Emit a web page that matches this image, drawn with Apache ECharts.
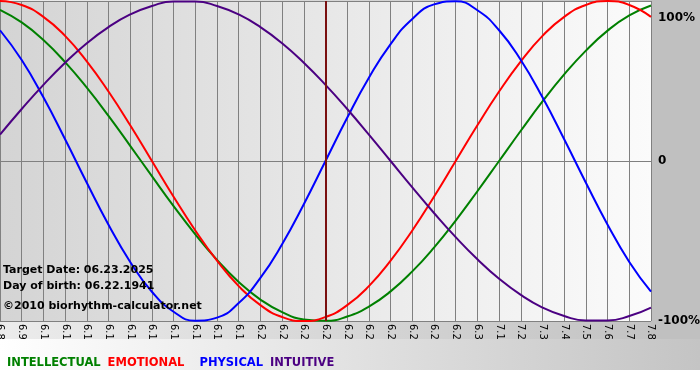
<!DOCTYPE html>
<html>
<head>
<meta charset="utf-8">
<script src="https://cdn.jsdelivr.net/npm/echarts@6/dist/echarts.min.js"></script>
<style>html,body{margin:0;padding:0;background:#fff}#c{width:700px;height:380px}</style>
</head>
<body>
<div id="c"></div>
<script>
const dates = ['6.8','6.9','6.10','6.11','6.12','6.13','6.14','6.15','6.16','6.17','6.18','6.19','6.20','6.21','6.22','6.23','6.24','6.25','6.26','6.27','6.28','6.29','6.30','7.1','7.2','7.3','7.4','7.5','7.6','7.7','7.8'];
const intellectual = [94.5,86.6,75.6,61.8,45.8,28.2,9.5,-9.5,-28.2,-45.8,-61.8,-75.6,-86.6,-94.5,-99.0,-99.9,-97.2,-91.0,-81.5,-69.0,-54.1,-37.2,-18.9,0,18.9,37.2,54.1,69.0,81.5,91.0,97.2];
const emotional = [100,97.5,90.1,78.2,62.3,43.4,22.3,0,-22.3,-43.4,-62.3,-78.2,-90.1,-97.5,-100,-97.5,-90.1,-78.2,-62.3,-43.4,-22.3,0,22.3,43.4,62.3,78.2,90.1,97.5,100,97.5,90.1];
const physical = [81.7,63.1,39.8,13.6,-13.6,-39.8,-63.1,-81.7,-94.2,-99.8,-97.9,-88.8,-73.1,-52.0,-27.0,0,27.0,52.0,73.1,88.8,97.9,99.8,94.2,81.7,63.1,39.8,13.6,-13.6,-39.8,-63.1,-81.7];
const intuitive = [16.5,32.5,47.6,61.4,73.6,83.7,91.6,96.9,99.7,99.7,96.9,91.6,83.7,73.6,61.4,47.6,32.5,16.5,0,-16.5,-32.5,-47.6,-61.4,-73.6,-83.7,-91.6,-96.9,-99.7,-99.7,-96.9,-91.6];
const yTicks = {'100':'100%','0':'0','-100':'-100%'};
const targetDate = '6.23';
const infoLines = ['Target Date: 06.23.2025','Day of birth: 06.22.1941','©2010 biorhythm-calculator.net'];
const names = ['INTELLECTUAL','EMOTIONAL','PHYSICAL','INTUITIVE'];
const colors = ['#008000','#ff0000','#0000ff','#4b0082'];

const chart = echarts.init(document.getElementById('c'), null, {renderer:'canvas'});
const font = 'DejaVu Sans, Verdana, sans-serif';
const seriesData = [intellectual, emotional, physical, intuitive];
const series = names.map((n,i)=>({
  name:n, type:'line', data:seriesData[i], smooth:true, showSymbol:false, symbol:'none',
  lineStyle:{color:colors[i], width:2}, itemStyle:{color:colors[i]}, z:3, animation:false
}));
series[3].markLine = {
  silent:true, symbol:'none', animation:false,
  label:{show:false},
  lineStyle:{color:'#7a1010', width:2, type:'solid'},
  data:[{xAxis: targetDate}]
};
chart.setOption({
  animation:false,
  backgroundColor:'#ffffff',
  textStyle:{fontFamily:font},
  graphic:[
    {type:'rect', z:-10, shape:{x:0,y:0,width:700,height:370},
     style:{fill:new echarts.graphic.LinearGradient(0,0,1,0,[{offset:0,color:'#ececec'},{offset:1,color:'#c0c0c0'}])}},
    {type:'rect', z:-9, shape:{x:651,y:0,width:49,height:339}, style:{fill:'#c0c0c0'}},
    {type:'rect', z:50, shape:{x:0,y:339,width:700,height:31},
     style:{fill:new echarts.graphic.LinearGradient(0,0,1,0,[{offset:0,color:'#ffffff'},{offset:1,color:'#c4c4c4'}])}},
    {type:'rect', z:50, shape:{x:0,y:370,width:700,height:10}, style:{fill:'#ffffff'}},
    {type:'text', z:60, left:3, top:265, style:{text:infoLines[0], font:'bold 11px '+font, fill:'#000'}},
    {type:'text', z:60, left:3, top:281, style:{text:infoLines[1], font:'bold 11px '+font, fill:'#000'}},
    {type:'text', z:60, left:3, top:301, style:{text:infoLines[2], font:'bold 11px '+font, fill:'#000'}}
  ],
  legend:{
    z:100, left:-3, top:352, icon:'none', itemWidth:0, itemHeight:0, itemGap:2, padding:[5,5,5,5],
    textStyle:{fontFamily:font, fontSize:11.5, fontWeight:'bold', padding:0},
    formatter: n => n === 'PHYSICAL' ? '  ' + n : n,
    data:names.map((n,i)=>({name:n, textStyle:{color:colors[i]}})),
    selectedMode:false
  },
  grid:{left:0, top:1, width:651, height:320, show:true, borderWidth:0, containLabel:false, outerBoundsMode:'none',
    backgroundColor:new echarts.graphic.LinearGradient(0,0,1,0,[{offset:0,color:'#d4d4d4'},{offset:1,color:'#fbfbfb'}])},
  xAxis:{
    type:'category', data:dates, boundaryGap:false,
    axisLine:{show:true, lineStyle:{color:'#808080', width:1}},
    axisTick:{show:true, length:4, interval:0, lineStyle:{color:'#808080'}},
    splitLine:{show:true, interval:0, lineStyle:{color:'#808080', width:1}},
    axisLabel:{show:true, interval:0, rotate:-90, margin:3, fontSize:10, color:'#000', fontFamily:font}
  },
  yAxis:{
    type:'value', position:'right', min:-100, max:100, interval:100,
    axisLine:{show:false}, axisTick:{show:false},
    splitLine:{show:true, lineStyle:{color:'#808080', width:1}},
    axisLabel:{margin:7, color:'#000', fontFamily:font, fontSize:12, fontWeight:'bold',
      formatter:v=> v===100 ? '{t|'+yTicks['100']+'}' : (yTicks[String(v)]||''),
      rich:{t:{padding:[34,0,0,0], fontSize:12, fontWeight:'bold', color:'#000', fontFamily:font}}}
  },
  series:series
});
</script>
</body>
</html>
